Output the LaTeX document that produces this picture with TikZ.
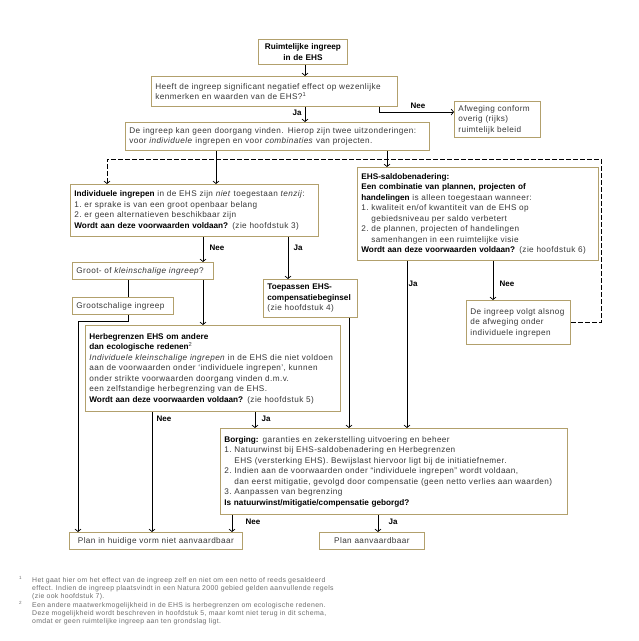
\documentclass[tikz,border=0pt]{standalone}
\usepackage{fontspec}
\setmainfont{Liberation Sans}[LetterSpace=5,BoldFeatures={LetterSpace=0}]
\usetikzlibrary{arrows.meta}
\definecolor{boxc}{RGB}{178,160,108}
\definecolor{txt}{RGB}{55,55,55}
\definecolor{fnc}{RGB}{110,110,110}
\begin{document}
\begin{tikzpicture}[x=1pt,y=-1pt,
  box/.style={draw=boxc, line width=0.8pt, fill=white, anchor=north west,
    inner xsep=4pt, inner ysep=2pt, align=left, text=txt,
    font=\fontsize{8.2}{10.5}\selectfont},
  cbox/.style={box, align=center},
  arr/.style={-{Straight Barb[length=2.5pt,width=6pt]}, line width=0.7pt},
  ln/.style={line width=0.7pt},
  dsh/.style={arr, dash pattern=on 5pt off 2pt},
  lab/.style={font=\bfseries\fontsize{8}{9}\selectfont, inner sep=0pt, text=black},
  fn/.style={font=\fontsize{6.9}{7.5}\selectfont, text=fnc, inner sep=0pt, anchor=west},
  fnm/.style={font=\fontsize{4.5}{5}\selectfont, text=fnc, inner sep=0pt, anchor=west}]
\useasboundingbox[fill=white] (0,0) rectangle (639,641);

% boxes
\node[cbox, minimum width=89pt, minimum height=25pt, text width=81pt] (b1) at (258,39)
  {\textbf{\color{black}Ruimtelijke ingreep}\\\textbf{\color{black}in de EHS}};
\node[box, minimum width=246pt, minimum height=30pt, text width=238pt] (b2) at (151,76)
  {Heeft de ingreep significant negatief effect op wezenlijke\\kenmerken en waarden van de EHS?\textsuperscript{1}};
\node[box, minimum width=86pt, minimum height=36pt, text width=78pt] (afw) at (454,101)
  {Afweging conform\\overig (rijks)\\ruimtelijk beleid};
\node[box, minimum width=304pt, minimum height=28pt, text width=296pt] (b3) at (125,122)
  {De ingreep kan geen doorgang vinden. Hierop zijn twee uitzonderingen:\\voor \textit{individuele} ingrepen en voor \textit{combinaties} van projecten.};
\node[box, minimum width=248pt, minimum height=52pt, text width=240pt] (b4) at (70,184)
  {\textbf{\color{black}Individuele ingrepen} in de EHS zijn \textit{niet} toegestaan \textit{tenzij}:\\
   1.\ er sprake is van een groot openbaar belang\\
   2.\ er geen alternatieven beschikbaar zijn\\
   \textbf{\color{black}Wordt aan deze voorwaarden voldaan?} (zie hoofdstuk 3)};
\node[box, minimum width=241pt, minimum height=93pt, text width=233pt] (ehs) at (357,167)
  {\textbf{\color{black}EHS-saldobenadering:}\\
   \textbf{\color{black}Een combinatie van plannen, projecten of}\\
   \textbf{\color{black}handelingen} is alleen toegestaan wanneer:\\
   1.\ kwaliteit en/of kwantiteit van de EHS op\\
   \phantom{1.\ }gebiedsniveau per saldo verbetert\\
   2.\ de plannen, projecten of handelingen\\
   \phantom{2.\ }samenhangen in een ruimtelijke visie\\
   \textbf{\color{black}Wordt aan deze voorwaarden voldaan?} (zie hoofdstuk 6)};
\node[box, minimum width=141pt, minimum height=17pt, text width=133pt] (groot) at (72,262)
  {Groot- of \textit{kleinschalige ingreep}?};
\node[box, minimum width=101pt, minimum height=17pt, text width=93pt] (gs) at (72,297)
  {Grootschalige ingreep};
\node[box, minimum width=94pt, minimum height=38pt, text width=86pt] (toep) at (263,279)
  {\textbf{\color{black}Toepassen EHS-}\\\textbf{\color{black}compensatiebeginsel}\\(zie hoofdstuk 4)};
\node[box, minimum width=104pt, minimum height=44pt, text width=96pt] (volgt) at (466,300)
  {De ingreep volgt alsnog\\de afweging onder\\individuele ingrepen};
\node[box, minimum width=255pt, minimum height=86pt, text width=247pt] (herb) at (85,325)
  {\textbf{\color{black}Herbegrenzen EHS om andere}\\
   \textbf{\color{black}dan ecologische redenen}\textsuperscript{2}\\
   \textit{Individuele kleinschalige ingrepen} in de EHS die niet voldoen\\
   aan de voorwaarden onder ‘individuele ingrepen’, kunnen\\
   onder strikte voorwaarden doorgang vinden d.m.v.\\
   een zelfstandige herbegrenzing van de EHS.\\
   \textbf{\color{black}Wordt aan deze voorwaarden voldaan?} (zie hoofdstuk 5)};
\node[box, minimum width=347pt, minimum height=86pt, text width=339pt] (borg) at (220,428)
  {\textbf{\color{black}Borging:} garanties en zekerstelling uitvoering en beheer\\
   1.\ Natuurwinst bij EHS-saldobenadering en Herbegrenzen\\
   \phantom{1.\ }EHS (versterking EHS). Bewijslast hiervoor ligt bij de initiatiefnemer.\\
   2.\ Indien aan de voorwaarden onder “individuele ingrepen” wordt voldaan,\\
   \phantom{2.\ }dan eerst mitigatie, gevolgd door compensatie (geen netto verlies aan waarden)\\
   3.\ Aanpassen van begrenzing\\
   \textbf{\color{black}Is natuurwinst/mitigatie/compensatie geborgd?}};
\node[cbox, minimum width=173pt, minimum height=17pt, text width=165pt] (pn) at (69,532)
  {Plan in huidige vorm niet aanvaardbaar};
\node[cbox, minimum width=105pt, minimum height=17pt, text width=97pt] (pj) at (319,532)
  {Plan aanvaardbaar};

% columns / bend points
\coordinate (c305) at (305,0);
\coordinate (n1) at (379,112);
\coordinate (c216) at (216,0);
\coordinate (c387) at (387,0);
\coordinate (dA) at (601,159);
\coordinate (dB) at (107,159);
\coordinate (c203) at (203,0);
\coordinate (c288) at (288,0);
\coordinate (k1) at (128,321);
\coordinate (k2) at (78,321);
\coordinate (c152) at (152,0);
\coordinate (c255) at (255,0);
\coordinate (c349) at (349,0);
\coordinate (c407) at (407,0);
\coordinate (c493) at (493,0);
\coordinate (c232) at (232,0);
\coordinate (c378) at (378,0);

% connectors
\draw[arr] (b1.south -| c305) -- (b2.north -| c305);
\draw[arr] (b2.south -| c305) -- (b3.north -| c305);
\draw[arr] (b2.south -| n1) -- (n1) -- (afw.west |- n1);
\draw[dsh] (volgt.east) -| (dA) -- (dB) -- (b4.north -| dB);
\draw[arr] (b3.south -| c216) -- (b4.north -| c216);
\draw[arr] (b3.south -| c387) -- (ehs.north -| c387);
\draw[arr] (b4.south -| c203) -- (groot.north -| c203);
\draw[arr] (b4.south -| c288) -- (toep.north -| c288);
\draw[ln] (groot.south -| k1) -- (gs.north -| k1);
\draw[arr] (groot.south -| c203) -- (herb.north -| c203);
\draw[arr] (gs.south -| k1) -- (k1) -- (k2) -- (pn.north -| k2);
\draw[arr] (herb.south -| c152) -- (pn.north -| c152);
\draw[arr] (herb.south -| c255) -- (borg.north -| c255);
\draw[arr] (toep.south -| c349) -- (borg.north -| c349);
\draw[arr] (ehs.south -| c407) -- (borg.north -| c407);
\draw[arr] (ehs.south -| c493) -- (volgt.north -| c493);
\draw[arr] (borg.south -| c232) -- (pn.north -| c232);
\draw[arr] (borg.south -| c378) -- (pj.north -| c378);

% labels
\node[lab] (l1) at (297,113) {Ja};
\node[lab] (l2) at (418,106) {Nee};
\node[lab] (l3) at (217,248) {Nee};
\node[lab] (l4) at (298,248) {Ja};
\node[lab] (l5) at (413,284) {Ja};
\node[lab] (l6) at (507,284) {Nee};
\node[lab] (l7) at (164,419) {Nee};
\node[lab] (l8) at (266,419) {Ja};
\node[lab] (l9) at (253,522) {Nee};
\node[lab] (l10) at (393,522) {Ja};

% footnotes
\node[fnm] (m1) at (19,578) {1};
\node[fn] (f1) at (32,581) {Het gaat hier om het effect van de ingreep zelf en niet om een netto of reeds gesaldeerd};
\node[fn] (f2) at (32,589) {effect. Indien de ingreep plaatsvindt in een Natura 2000 gebied gelden aanvullende regels};
\node[fn] (f3) at (32,597) {(zie ook hoofdstuk 7).};
\node[fnm] (m2) at (19,603) {2};
\node[fn] (f4) at (32,606) {Een andere maatwerkmogelijkheid in de EHS is herbegrenzen om ecologische redenen.};
\node[fn] (f5) at (32,614) {Deze mogelijkheid wordt beschreven in hoofdstuk 5, maar komt niet terug in dit schema,};
\node[fn] (f6) at (32,622) {omdat er geen ruimtelijke ingreep aan ten grondslag ligt.};
\end{tikzpicture}
\end{document}
